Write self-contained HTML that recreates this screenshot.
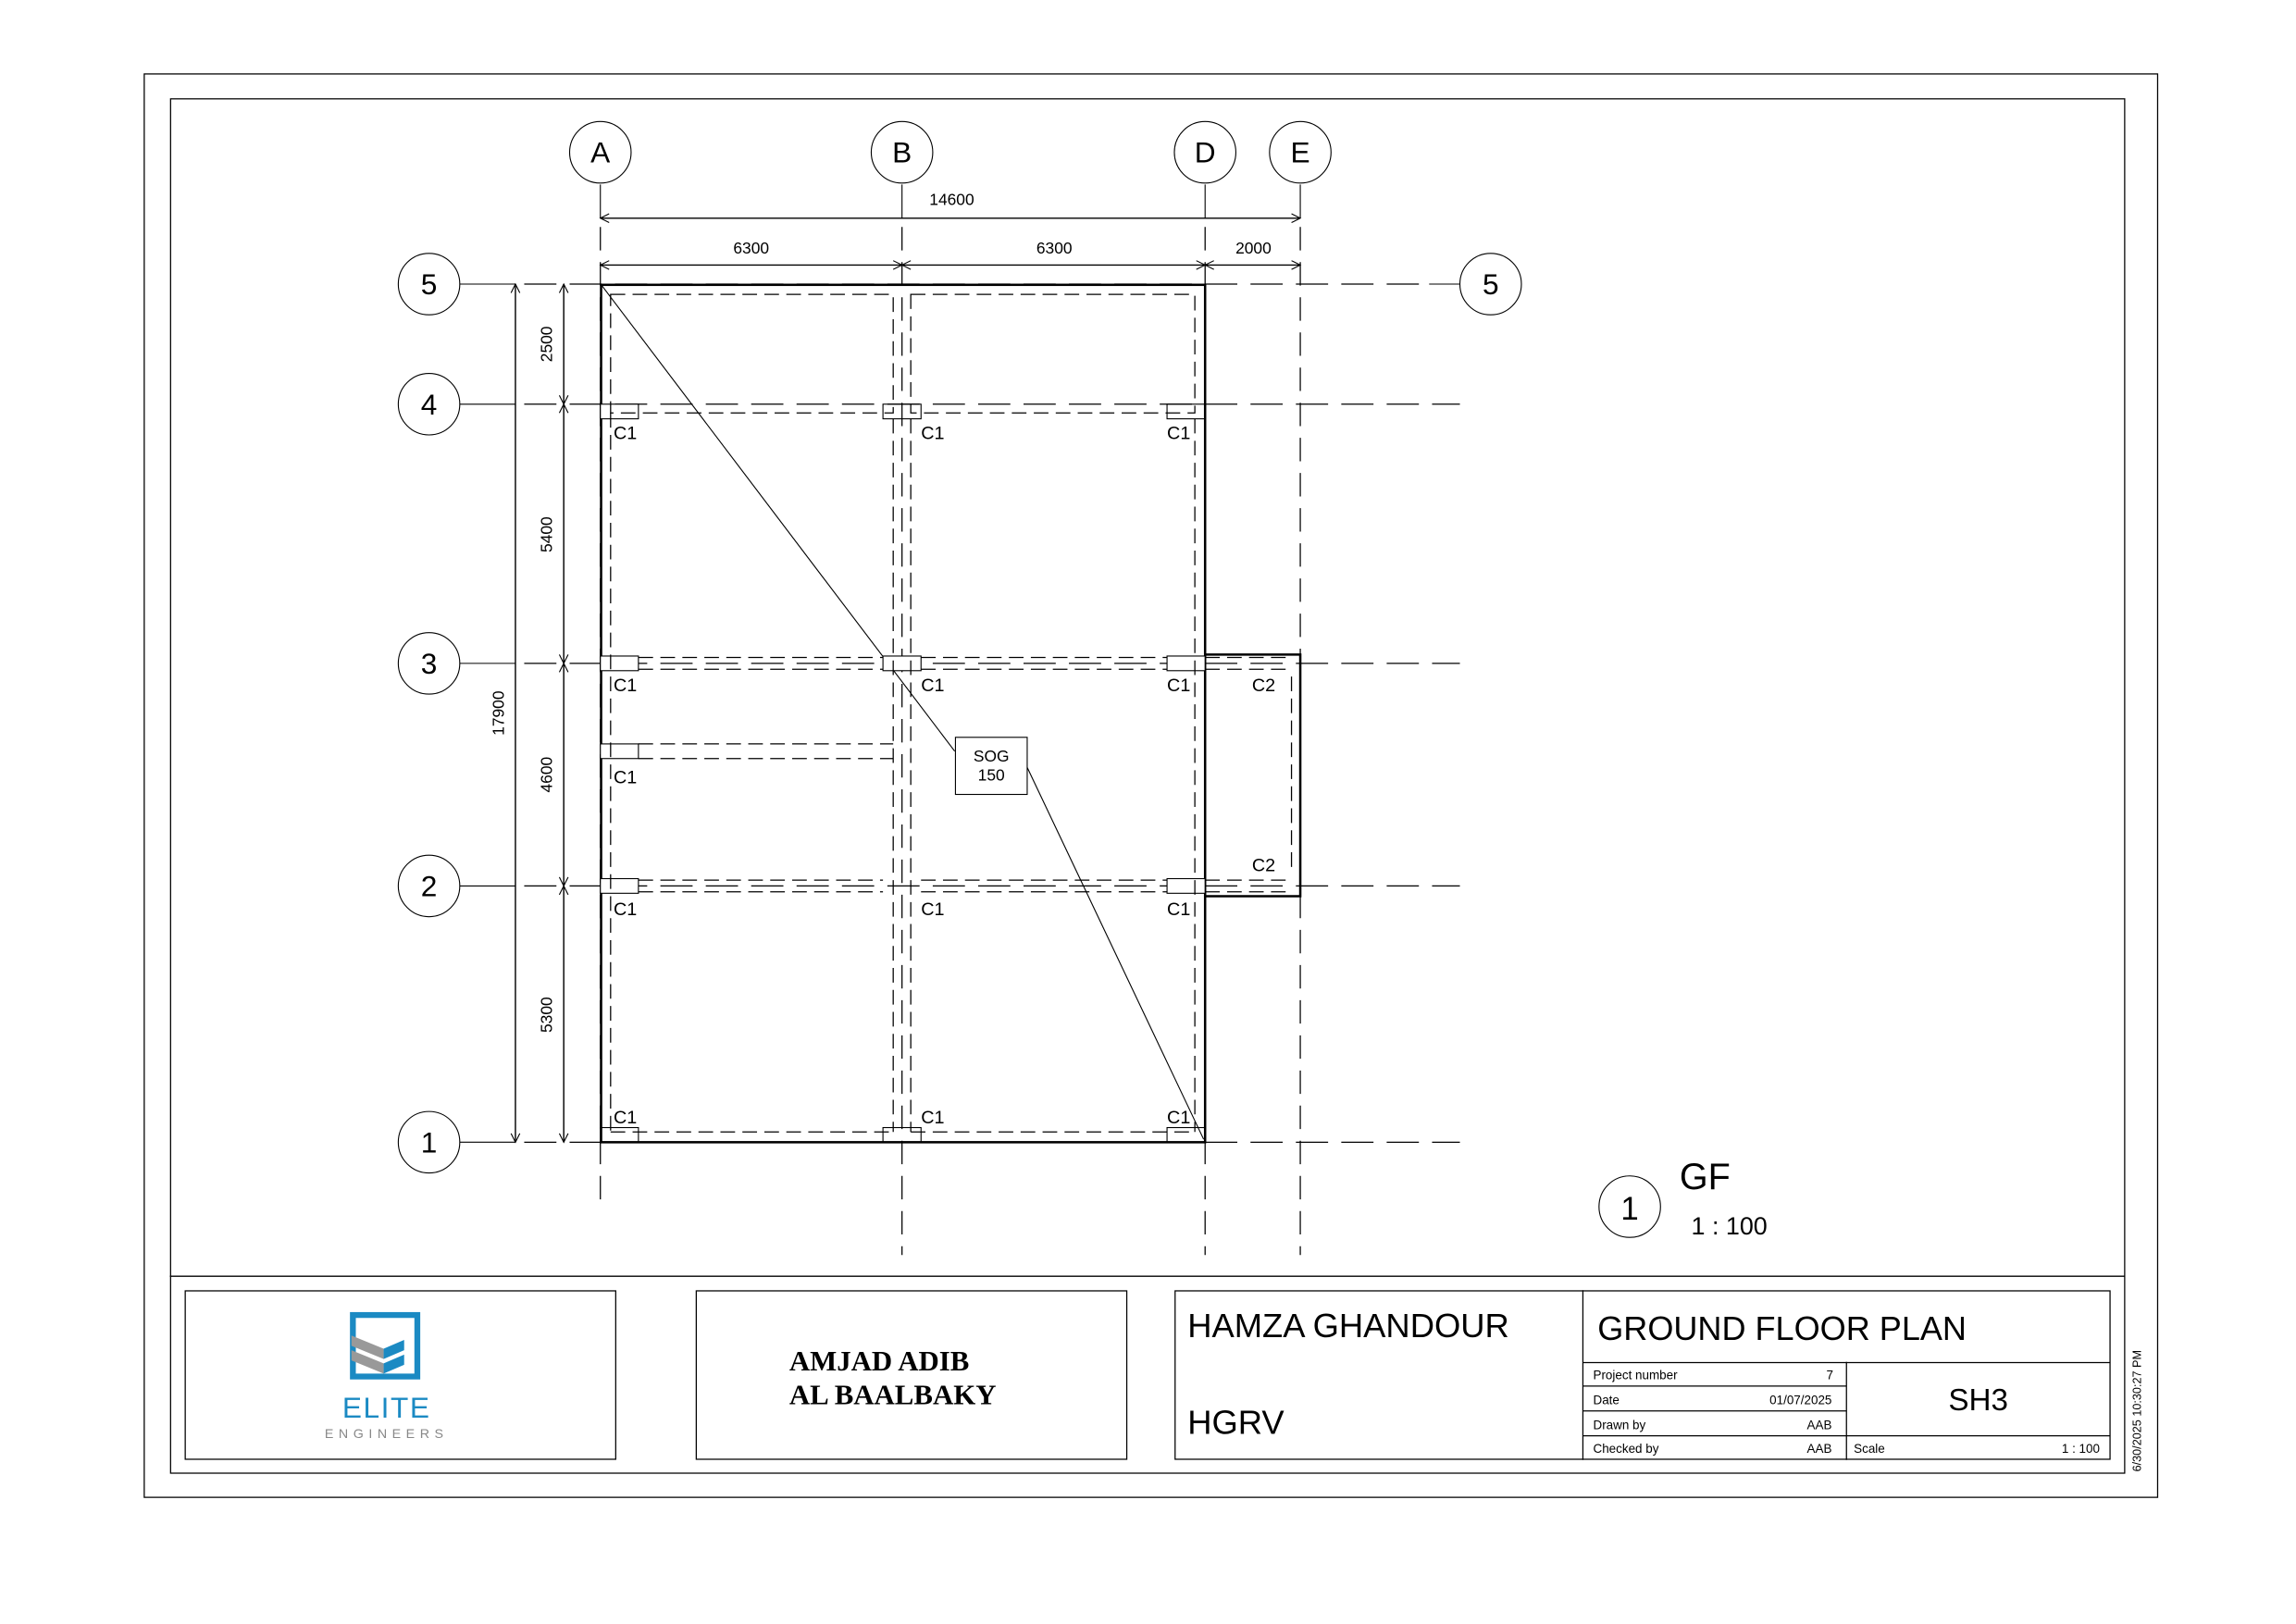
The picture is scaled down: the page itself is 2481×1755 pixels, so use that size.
<!DOCTYPE html>
<html><head><meta charset="utf-8"><style>
html,body{margin:0;padding:0;background:#fff}
svg{display:block}
text{font-family:"Liberation Sans",sans-serif;fill:#000}
</style></head><body>
<svg width="2481" height="1755" viewBox="0 0 1568 1109" preserveAspectRatio="none" xmlns="http://www.w3.org/2000/svg">
<rect x="0" y="0" width="1568" height="1109" fill="#fff"/>
<rect x="98.5" y="50.5" width="1375" height="972" fill="none" stroke="#000" stroke-width="0.8"/>
<rect x="116.5" y="67.5" width="1334.5" height="938.5" fill="none" stroke="#000" stroke-width="0.8"/>
<line x1="116" y1="871.5" x2="1451" y2="871.5" stroke="#000" stroke-width="0.9"/>

<g stroke="#000" fill="none" stroke-width="0.7">
<line x1="410" y1="126" x2="410" y2="149"/>
<line x1="616" y1="126" x2="616" y2="149"/>
<line x1="823" y1="126" x2="823" y2="149"/>
<line x1="888" y1="126" x2="888" y2="149"/>
<g stroke-dasharray="16,8" stroke-width="0.8">
<line x1="410" y1="155" x2="410" y2="822"/>
<line x1="616" y1="155" x2="616" y2="857"/>
<line x1="823" y1="155" x2="823" y2="857"/>
<line x1="888" y1="155" x2="888" y2="857"/>
</g>
<line x1="314" y1="194" x2="352" y2="194"/>
<line x1="314" y1="276" x2="352" y2="276"/>
<line x1="314" y1="453" x2="352" y2="453"/>
<line x1="314" y1="605" x2="352" y2="605"/>
<line x1="314" y1="780" x2="352" y2="780"/>
<line x1="976" y1="194" x2="997" y2="194"/>
<g stroke-dasharray="22,9" stroke-width="0.8">
<line x1="358" y1="194" x2="976" y2="194"/>
<line x1="358" y1="276" x2="997" y2="276"/>
<line x1="358" y1="453" x2="997" y2="453"/>
<line x1="358" y1="605" x2="997" y2="605"/>
<line x1="358" y1="780" x2="997" y2="780"/>
</g>
<circle cx="410" cy="104" r="21"/><circle cx="616" cy="104" r="21"/>
<circle cx="823" cy="104" r="21"/><circle cx="888" cy="104" r="21"/>
<circle cx="293" cy="194" r="21"/><circle cx="293" cy="276" r="21"/>
<circle cx="293" cy="453" r="21"/><circle cx="293" cy="605" r="21"/>
<circle cx="293" cy="780" r="21"/><circle cx="1018" cy="194" r="21"/>
<circle cx="1113" cy="824" r="21"/>
<line x1="410" y1="149" x2="888" y2="149" stroke-width="0.9"/>
<line x1="410" y1="181" x2="888" y2="181" stroke-width="0.9"/>
<line x1="352" y1="194" x2="352" y2="780" stroke-width="0.9"/>
<line x1="385" y1="194" x2="385" y2="780" stroke-width="0.9"/>
<path d="M416 146 L410 149 L416 152 M882 146 L888 149 L882 152"/>
<path d="M416 178 L410 181 L416 184 M610 178 L616 181 L610 184 M622 178 L616 181 L622 184 M817 178 L823 181 L817 184 M829 178 L823 181 L829 184 M882 178 L888 181 L882 184"/>
<path d="M349 200 L352 194 L355 200 M349 774 L352 780 L355 774"/>
<path d="M382 200 L385 194 L388 200 M382 270 L385 276 L388 270 M382 282 L385 276 L388 282 M382 447 L385 453 L388 447 M382 459 L385 453 L388 459 M382 599 L385 605 L388 599 M382 611 L385 605 L388 611 M382 774 L385 780 L388 774"/>
<rect x="410.5" y="194.5" width="412.5" height="585.5" stroke-width="1.6"/>
<path d="M823 447 L888 447 L888 612 L823 612" stroke-width="1.6"/>
<line x1="411" y1="195" x2="652" y2="513"/>
<line x1="701" y1="523" x2="822" y2="778"/>
<rect x="652.5" y="503.5" width="49" height="39" fill="#fff"/>
<g fill="#fff">
<rect x="410" y="276" width="26" height="10"/><rect x="603" y="276" width="26" height="10" fill="none"/><rect x="797" y="276" width="26" height="10" fill="none"/>
<rect x="410" y="448" width="26" height="10"/><rect x="603" y="448" width="26" height="10"/><rect x="797" y="448" width="26" height="10"/>
<rect x="410" y="508" width="26" height="10"/>
<rect x="410" y="600" width="26" height="10"/><rect x="797" y="600" width="26" height="10"/>
<rect x="410" y="770" width="26" height="10" fill="none"/><rect x="603" y="770" width="26" height="10" fill="none"/><rect x="797" y="770" width="26" height="10" fill="none"/>
</g>
<g stroke-dasharray="10,5" stroke-width="0.8">
<rect x="417" y="201" width="193" height="81"/>
<rect x="622" y="201" width="194" height="81"/>
<line x1="417" y1="282" x2="417" y2="773"/>
<line x1="610" y1="286" x2="610" y2="773"/>
<line x1="622" y1="286" x2="622" y2="773"/>
<line x1="816" y1="286" x2="816" y2="773"/>
<line x1="417" y1="773" x2="610" y2="773"/>
<line x1="622" y1="773" x2="816" y2="773"/>
<line x1="436" y1="449" x2="603" y2="449"/><line x1="436" y1="457" x2="603" y2="457"/>
<line x1="629" y1="449" x2="797" y2="449"/><line x1="629" y1="457" x2="797" y2="457"/>
<line x1="823" y1="449" x2="878" y2="449"/><line x1="823" y1="457" x2="878" y2="457"/>
<line x1="436" y1="508" x2="610" y2="508"/><line x1="436" y1="518" x2="610" y2="518"/>
<line x1="436" y1="601" x2="603" y2="601"/><line x1="436" y1="609" x2="603" y2="609"/>
<line x1="629" y1="601" x2="797" y2="601"/><line x1="629" y1="609" x2="797" y2="609"/>
<line x1="823" y1="601" x2="878" y2="601"/><line x1="823" y1="609" x2="878" y2="609"/>
<line x1="882" y1="462" x2="882" y2="596"/>
</g>
</g>

<g font-size="20" text-anchor="middle">
<text x="410" y="111">A</text><text x="616" y="111">B</text><text x="823" y="111">D</text><text x="888" y="111">E</text>
<text x="293" y="201">5</text><text x="293" y="283">4</text><text x="293" y="460">3</text><text x="293" y="612">2</text><text x="293" y="787">1</text>
<text x="1018" y="201">5</text><text x="1113" y="833" font-size="22">1</text>
</g>
<g font-size="11" text-anchor="middle">
<text x="650" y="140">14600</text>
<text x="513" y="173">6300</text><text x="720" y="173">6300</text><text x="856" y="173">2000</text>
<text transform="translate(344,487) rotate(-90)">17900</text>
<text transform="translate(377,235) rotate(-90)">2500</text>
<text transform="translate(377,365) rotate(-90)">5400</text>
<text transform="translate(377,529) rotate(-90)">4600</text>
<text transform="translate(377,693) rotate(-90)">5300</text>
<text x="677" y="520">SOG</text><text x="677" y="533">150</text>
</g>
<g font-size="12.5">
<text x="419" y="300">C1</text><text x="629" y="300">C1</text><text x="797" y="300">C1</text>
<text x="419" y="472">C1</text><text x="629" y="472">C1</text><text x="797" y="472">C1</text><text x="855" y="472">C2</text>
<text x="419" y="535">C1</text>
<text x="855" y="595">C2</text>
<text x="419" y="625">C1</text><text x="629" y="625">C1</text><text x="797" y="625">C1</text>
<text x="419" y="767">C1</text><text x="629" y="767">C1</text><text x="797" y="767">C1</text>
</g>
<text x="1147" y="812" font-size="25">GF</text>
<text x="1155" y="843" font-size="17">1 : 100</text>

<g stroke="#000" fill="none" stroke-width="0.8">
<rect x="126.5" y="881.5" width="294" height="115"/>
<rect x="475.5" y="881.5" width="294" height="115"/>
<rect x="802.5" y="881.5" width="638.5" height="115"/>
<line x1="1081" y1="881" x2="1081" y2="997"/>
<line x1="1081" y1="930.5" x2="1441" y2="930.5"/>
<line x1="1081" y1="946.5" x2="1261" y2="946.5"/>
<line x1="1081" y1="963.5" x2="1261" y2="963.5"/>
<line x1="1081" y1="980.5" x2="1441" y2="980.5"/>
<line x1="1261" y1="930" x2="1261" y2="997"/>
</g>
<rect x="241" y="898" width="44" height="42" fill="none" stroke="#1b8ac3" stroke-width="4"/>
<path d="M240 912 L262 921 L262 928 L240 919 Z" fill="#999"/>
<path d="M240 922 L262 931 L262 938 L240 929 Z" fill="#999"/>
<path d="M262 921 L276 915 L276 922 L262 928 Z" fill="#1b8ac3"/>
<path d="M262 931 L276 925 L276 932 L262 938 Z" fill="#1b8ac3"/>
<text x="264" y="968" font-size="20" text-anchor="middle" style="fill:#1b8ac3;letter-spacing:1px">ELITE</text>
<text x="264" y="982" font-size="9" text-anchor="middle" style="fill:#888;letter-spacing:3.5px">ENGINEERS</text>

<text x="539" y="936" font-size="19.5" font-weight="bold" style="font-family:'Liberation Serif',serif">AMJAD ADIB</text>
<text x="539" y="959" font-size="19.5" font-weight="bold" style="font-family:'Liberation Serif',serif">AL BAALBAKY</text>

<text x="811" y="913" font-size="23">HAMZA GHANDOUR</text>
<text x="811" y="979" font-size="23">HGRV</text>
<text x="1091" y="915" font-size="22.8">GROUND FLOOR PLAN</text>
<text x="1351" y="963" font-size="21" text-anchor="middle">SH3</text>
<g font-size="8.5">
<text x="1088" y="942">Project number</text><text x="1252" y="942" text-anchor="end">7</text>
<text x="1088" y="959">Date</text><text x="1251" y="959" text-anchor="end">01/07/2025</text>
<text x="1088" y="976">Drawn by</text><text x="1251" y="976" text-anchor="end">AAB</text>
<text x="1088" y="992">Checked by</text><text x="1251" y="992" text-anchor="end">AAB</text>
<text x="1266" y="992">Scale</text><text x="1434" y="992" text-anchor="end">1 : 100</text>
</g>
<text transform="translate(1462,1005) rotate(-90)" font-size="8">6/30/2025 10:30:27 PM</text>
</svg>
</body></html>
